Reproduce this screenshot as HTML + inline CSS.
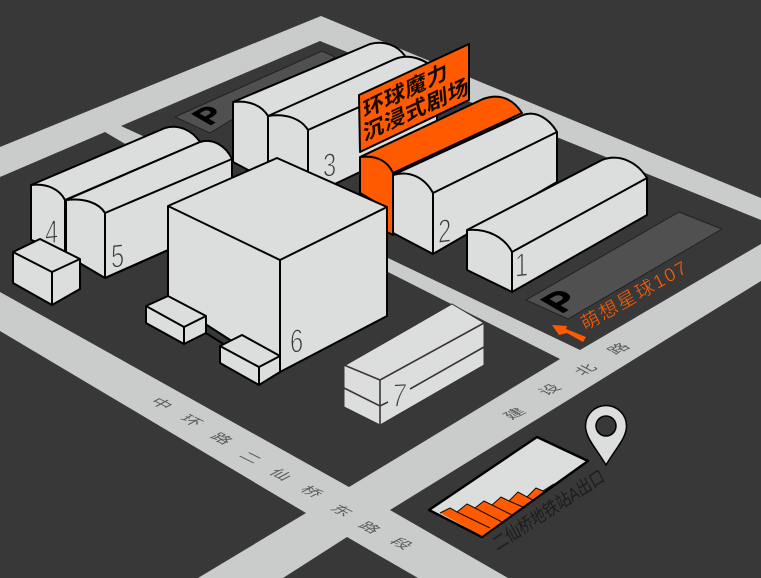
<!DOCTYPE html>
<html><head><meta charset="utf-8"><style>
html,body{margin:0;padding:0;background:#383838;width:761px;height:578px;overflow:hidden}
svg{display:block}
.b{fill:#dcdedd;stroke:#000;stroke-width:2;stroke-linejoin:round}
.l{fill:none;stroke:#000;stroke-width:2;stroke-linejoin:round}
.t{fill:none;stroke:#3b3434;stroke-width:1.6}
.o{fill:#ff5a00;stroke:#000;stroke-width:2;stroke-linejoin:round}
.n{font-family:"Liberation Sans",sans-serif;font-size:33px;fill:#3a3a3a;stroke:#dcdedd;stroke-width:1.1px;paint-order:fill stroke}
.r{font-family:"Liberation Sans","Noto Sans CJK SC",sans-serif;font-size:20px;fill:#5a5a5a;text-anchor:middle}
.p{font-family:"Liberation Sans",sans-serif;font-weight:bold;fill:#000;stroke:#000;stroke-width:.8px}
.s{font-family:"Liberation Sans","Noto Sans CJK SC",sans-serif;font-weight:bold;font-size:21px;letter-spacing:.6px;fill:#140800}
</style></head><body>
<svg width="761" height="578" viewBox="0 0 761 578" xmlns="http://www.w3.org/2000/svg">
<rect width="761" height="578" fill="#383838"/>
<!-- roads -->
<polygon fill="#cacccb" points="0,147 321,16 761,198 761,220 320,41 121,126 145,137 127,145 105,132 0,177"/>
<polygon fill="#cacccb" points="761,244 580,350 388,258 380,254 380,268 388,272 560,359 349,487 0,292 0,331 306,513 198,578 283,578 347,537 418,578 508,578 390,510 761,281"/>
<!-- parking -->
<polygon points="175,117 322,51 335,57 210,133" fill="#505050" stroke="#222" stroke-width="1"/>
<polygon points="679,212 722,229 568,319 526,300" fill="#505050" stroke="#222" stroke-width="1"/>
<text class="p" font-size="32" transform="matrix(.87,-.5,.87,.5,209,126)">P</text>
<text class="p" font-size="38" transform="matrix(.87,-.5,.87,.5,561,314)">P</text>
<text transform="matrix(.87,-.5,.45,.88,585,331)" font-family="'Liberation Sans','Noto Sans CJK SC',sans-serif" font-size="19" letter-spacing="1.8" fill="#ff5a00" stroke="#3c3c3c" stroke-width=".35" paint-order="fill stroke">萌想星球107</text>
<polygon points="552,325 567,326 566,329 586,337 583,342 567,333 559,335" fill="#ff5a00"/>
<!-- building 3 -->
<path class="b" d="M233 102 L370 44 C385 40 398 46 405 56 L405 120 L268 170 L250 171 L233 162 Z"/>
<path class="l" d="M233 102 C250 100 262 106 268 116 V170"/>
<path class="b" d="M268 116 L395 59 C410 53 428 60 437 72 V122 L360 172 L337 183 L308 198 L268 172 Z"/>
<path class="l" d="M268 116 C288 113 302 120 308 130 V198 M308 130 L437 72"/>
<text class="n" transform="matrix(.72,-.08,0,1,323,177)">3</text>
<!-- orange -->
<path class="o" d="M360 157 L483 99 C500 93 513 99 522 113 L393 173 L393 235 L387 232 L387 209 L360 193 Z"/>
<path class="l" d="M360 157 C378 155 388 162 393 173"/>
<!-- building 2 -->
<path class="b" d="M393 175 L523 115 C537 110 550 120 557 132 V182 L433 254 L393 233 Z"/>
<path class="l" d="M393 175 C410 170 425 178 433 193 V254 M433 193 L557 132"/>
<text class="n" transform="matrix(.72,-.08,0,1,438,243)">2</text>
<!-- building 1 -->
<path class="b" d="M467 230 L602 160 C620 153 638 163 647 178 V215 L512 292 L467 270 Z"/>
<path class="l" d="M467 230 C488 228 505 238 512 252 V292 M512 252 L647 178"/>
<text class="n" transform="matrix(.72,-.08,0,1,515,277)">1</text>
<!-- building 4 -->
<path class="b" d="M31 185 L165 128 C178 124 192 130 200 142 V190 L105 278 L65 252 L31 240 Z"/>
<path class="l" d="M31 185 C48 183 60 190 65 200 V255 M65 200 L200 142"/>
<text class="n" transform="matrix(.72,-.08,0,1,45,244)">4</text>
<!-- building 5 -->
<path class="b" d="M66 200 L200 142 C213 138 226 146 232 159 V222 L105 278 L66 255 Z"/>
<path class="l" d="M66 200 C85 198 99 203 105 213 V278 M105 213 L232 159 M105 278 L168 250"/>
<text class="n" transform="matrix(.72,-.08,0,1,111,268)">5</text>
<!-- small box -->
<path class="b" d="M13 252 L40 239 L80 259 V289 L52 305 L13 283 Z"/>
<path class="l" d="M13 252 L52 272 L80 259 M52 272 V305"/>
<!-- building 6 -->
<path class="b" d="M168 206 L277 158 L387 207 V316 L280 372 L168 300 Z"/>
<path class="l" d="M168 206 L280 260 L387 207 M280 260 V372"/>
<text class="n" transform="matrix(.72,-.08,0,1,290,353)">6</text>
<path class="l" d="M206 333 L225 345"/>
<!-- boxes -->
<path class="b" d="M146 306 L168 296 L206 316 V333 L184 344 L146 323 Z"/>
<path class="l" d="M146 306 L184 327 L206 316 M184 327 V344"/>
<path class="b" d="M220 346 L242 335 L280 356 V372 L259 385 L220 363 Z"/>
<path class="l" d="M220 346 L259 367 L280 356 M259 367 V385"/>
<!-- building 7 -->
<path d="M344 366 L452 304 L484 323 V365 L380 425 L344 407 Z" fill="#dcdedd" stroke="#3b3434" stroke-width="1"/>
<path class="t" d="M344 365 L380 380 L484 323 M380 380 V425 M344 388 L380 406 L388 402 M410 389 L484 347"/>
<text class="n" transform="matrix(.78,-.04,-.1,1,391,407)" style="stroke-width:1.2px">7</text>
<!-- station -->
<polygon points="429,510 537,437 588,461 482,537" fill="#dcdedd" stroke="#000" stroke-width="2.4" stroke-linejoin="round"/>
<polygon points="440,513 450,508 457,512 467,504 475,508 484,501 492,505 501,497 509,501 518,492 527,497 536,488 543,491 554,484 482,536" fill="#ff5a00"/>
<path d="M440 513 L450 508 L457 512 L467 504 L475 508 L484 501 L492 505 L501 497 L509 501 L518 492 L527 497 L536 488 L543 491 L554 484 M457 512 L490 528 M475 508 L502 522 M492 505 L512 515 M509 501 L523 507 M527 497 L533 500 M543 491 L545 492" fill="none" stroke="#111" stroke-width="1.1"/>
<text transform="matrix(.74,-.48,.5,.95,497,551)" font-family="'Liberation Sans','Noto Sans CJK SC',sans-serif" font-size="17" fill="#1c1c1c">二仙桥地铁站A出口</text>
<!-- pin -->
<path d="M606 465 C596 448 585.5 438 585.5 426 A20.5 20.5 0 1 1 626.5 426 C626.5 438 616 448 606 465 Z" fill="#dcdedd" stroke="#000" stroke-width="1.5"/>
<circle cx="606" cy="426" r="10" fill="#383838" stroke="#000" stroke-width="1.5"/>
<!-- road labels -->
<g class="r">
<text transform="matrix(.8,.4,-.65,.35,157,406)">中</text>
<text transform="matrix(.8,.4,-.65,.35,187,423)">环</text>
<text transform="matrix(.8,.4,-.65,.35,217,441)">路</text>
<text transform="matrix(.8,.4,-.65,.35,246,460)">二</text>
<text transform="matrix(.8,.4,-.65,.35,276,477)">仙</text>
<text transform="matrix(.8,.4,-.65,.35,307,494)">桥</text>
<text transform="matrix(.8,.4,-.65,.35,337,513)">东</text>
<text transform="matrix(.8,.4,-.65,.35,365,530)">路</text>
<text transform="matrix(.8,.4,-.65,.35,397,546)">段</text>
<text transform="matrix(.8,-.4,.65,.35,519,416)">建</text>
<text transform="matrix(.8,-.4,.65,.35,554,392)">设</text>
<text transform="matrix(.8,-.4,.65,.35,590,372)">北</text>
<text transform="matrix(.8,-.4,.65,.35,623,351)">路</text>
</g>
<!-- sign -->
<polygon points="359,95 469,44 469,100 360,152" fill="#ff5a00" stroke="#000" stroke-width="2" stroke-linejoin="round"/>
<text class="s" transform="matrix(.98,-.47,.1,1,364,118)">环球魔力</text>
<text class="s" transform="matrix(.98,-.45,.1,1,364,141)">沉浸式剧场</text>
</svg>
</body></html>
